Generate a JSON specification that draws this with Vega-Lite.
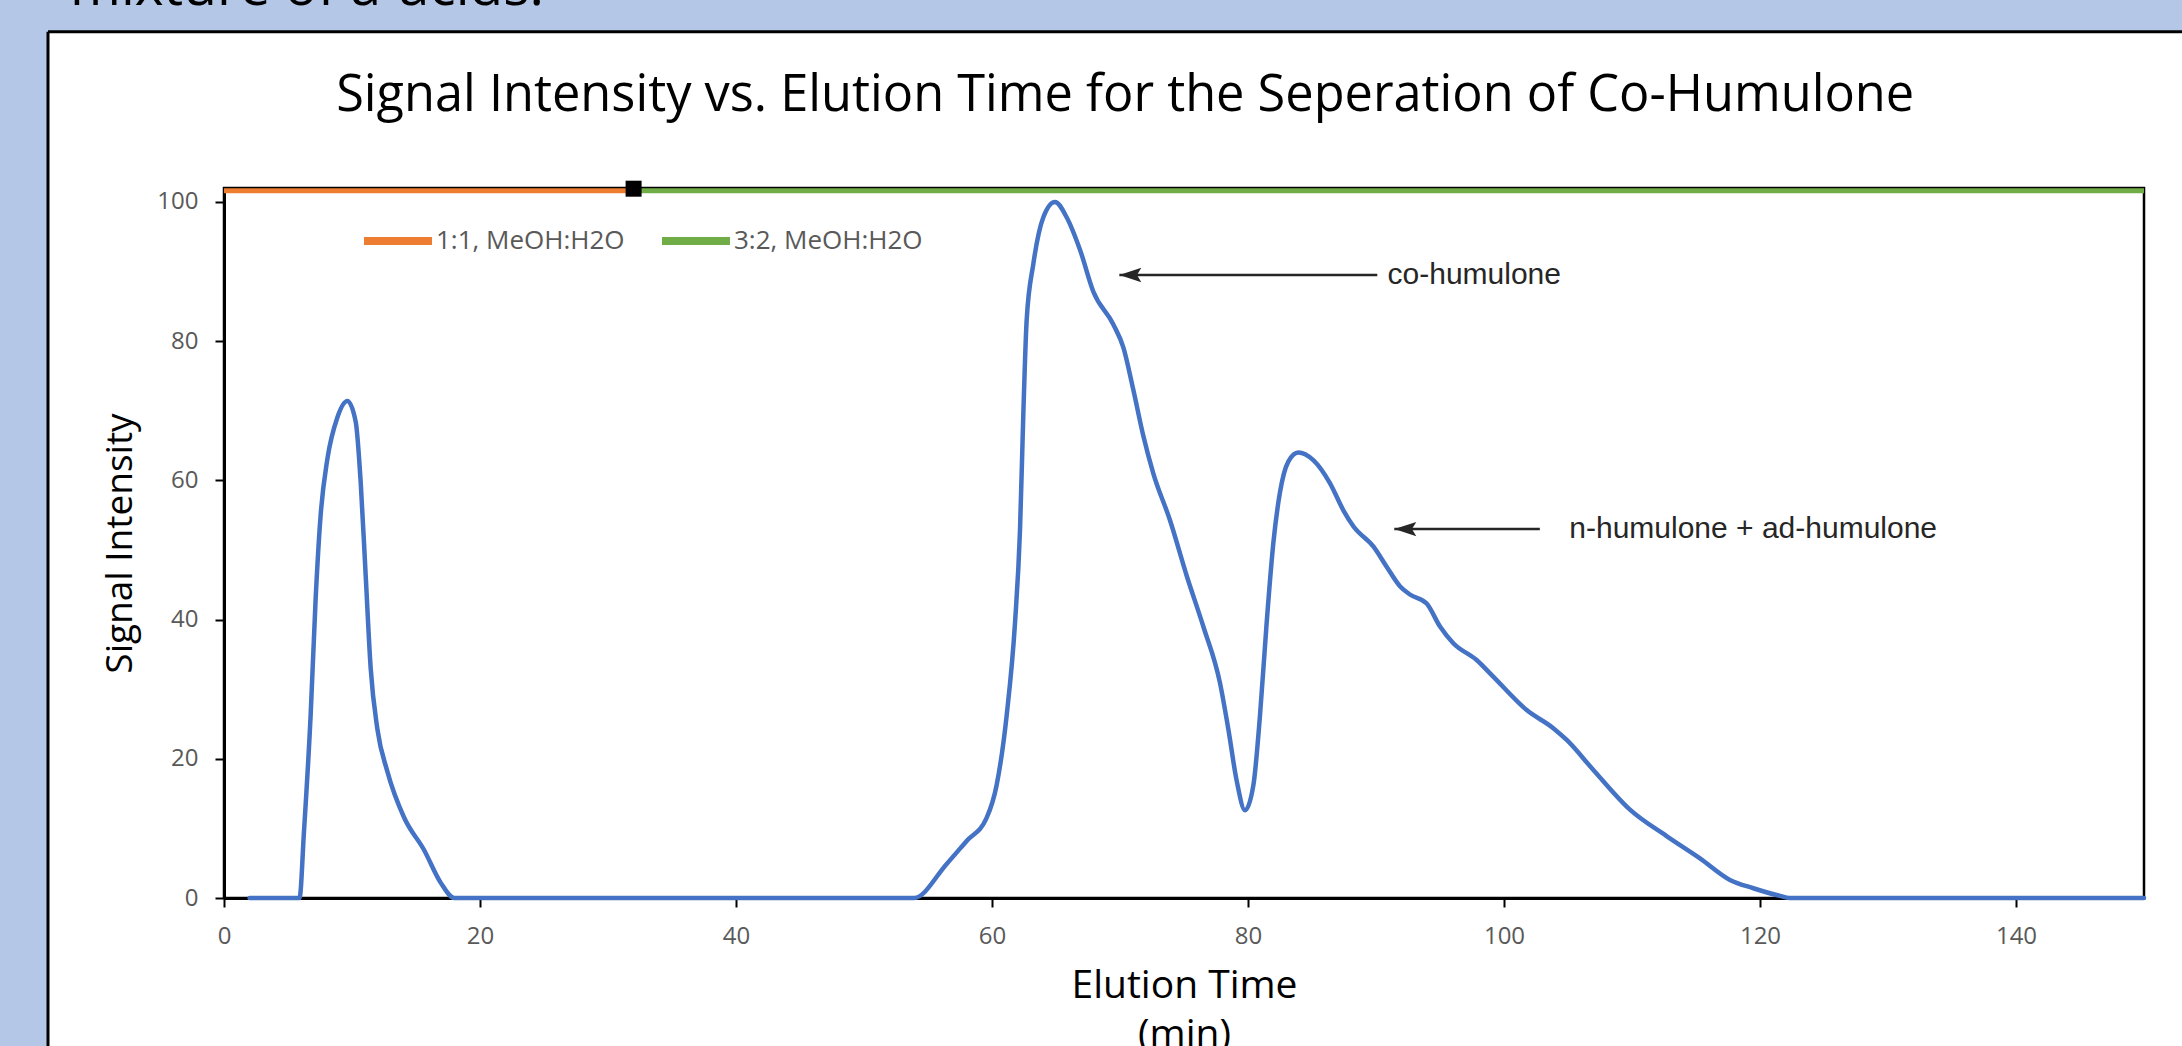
{
  "$schema": "https://vega.github.io/schema/vega-lite/v6.json",
  "width": 1920,
  "height": 710,
  "autosize": {"type": "none"},
  "padding": {"left": 224, "top": 188, "right": 38, "bottom": 148},
  "background": "white",
  "config": {
    "view": {"stroke": "#000000", "strokeWidth": 2.5},
    "font": "Open Sans",
    "axis": {
      "domainColor": "#000000",
      "domainWidth": 3,
      "tickColor": "#000000",
      "tickWidth": 2,
      "tickSize": 9,
      "grid": false,
      "labelFont": "Open Sans",
      "labelFontSize": 24,
      "labelColor": "#595959",
      "labelPadding": 17,
      "labelFlush": false,
      "labelOverlap": false,
      "titleFont": "Open Sans",
      "titleFontSize": 37,
      "titleFontWeight": "normal",
      "titleColor": "#000000"
    }
  },
  "datasets": {
    "curve": [
      {"t": 2, "signal": 0}, {"t": 5.9, "signal": 0}, {"t": 6.25, "signal": 9.6}, {"t": 6.77, "signal": 26.3},
      {"t": 7.16, "signal": 43}, {"t": 7.55, "signal": 55}, {"t": 8.07, "signal": 63}, {"t": 8.85, "signal": 69},
      {"t": 9.64, "signal": 71.4}, {"t": 10.29, "signal": 68.4}, {"t": 10.68, "signal": 59.7}, {"t": 11.07, "signal": 46.3},
      {"t": 11.46, "signal": 33}, {"t": 11.98, "signal": 24.3}, {"t": 12.76, "signal": 18.2}, {"t": 14.06, "signal": 11.6},
      {"t": 15.63, "signal": 6.9}, {"t": 16.93, "signal": 2.2}, {"t": 18, "signal": 0}, {"t": 30, "signal": 0},
      {"t": 45, "signal": 0}, {"t": 53.9, "signal": 0}, {"t": 56.46, "signal": 4.9}, {"t": 58.02, "signal": 8.2},
      {"t": 59.58, "signal": 11.5}, {"t": 60.36, "signal": 16.2}, {"t": 61.15, "signal": 26.3}, {"t": 61.8, "signal": 39.6},
      {"t": 62.19, "signal": 53}, {"t": 62.45, "signal": 69.7}, {"t": 62.71, "signal": 83.1}, {"t": 63.23, "signal": 91.1},
      {"t": 64.01, "signal": 97.8}, {"t": 64.92, "signal": 100}, {"t": 65.83, "signal": 97.8}, {"t": 66.88, "signal": 93.1},
      {"t": 67.92, "signal": 87.1}, {"t": 69.48, "signal": 82.4}, {"t": 70.26, "signal": 79.1}, {"t": 71.04, "signal": 73},
      {"t": 71.82, "signal": 66.4}, {"t": 72.6, "signal": 61}, {"t": 73.9, "signal": 54.3}, {"t": 75.21, "signal": 46.3},
      {"t": 76.51, "signal": 39}, {"t": 77.81, "signal": 30.9}, {"t": 78.46, "signal": 24.3}, {"t": 79.11, "signal": 16.9},
      {"t": 79.77, "signal": 12.6}, {"t": 80.42, "signal": 16.2}, {"t": 80.94, "signal": 26.3}, {"t": 81.46, "signal": 39.6},
      {"t": 81.98, "signal": 51}, {"t": 82.5, "signal": 58.3}, {"t": 83.15, "signal": 62.7}, {"t": 83.93, "signal": 64},
      {"t": 85.1, "signal": 62.9}, {"t": 86.4, "signal": 59.6}, {"t": 87.45, "signal": 55.7}, {"t": 88.23, "signal": 53.4},
      {"t": 89.79, "signal": 50.5}, {"t": 90.83, "signal": 47.6}, {"t": 91.87, "signal": 44.8}, {"t": 92.65, "signal": 43.6},
      {"t": 93.96, "signal": 42.3}, {"t": 95, "signal": 39}, {"t": 96.04, "signal": 36.6}, {"t": 97.86, "signal": 34.2},
      {"t": 99.16, "signal": 31.8}, {"t": 101.77, "signal": 27}, {"t": 103.85, "signal": 24.4}, {"t": 104.9, "signal": 22.7},
      {"t": 106.98, "signal": 18.4}, {"t": 109.84, "signal": 12.7}, {"t": 112.7, "signal": 8.9}, {"t": 115.31, "signal": 5.7},
      {"t": 117.65, "signal": 2.6}, {"t": 119.48, "signal": 1.4}, {"t": 121.56, "signal": 0.3}, {"t": 122.3, "signal": 0},
      {"t": 135, "signal": 0}, {"t": 150, "signal": 0}
    ],
    "gradient": [
      {"series": "1:1, MeOH:H2O", "t": 0, "level": 101.6},
      {"series": "1:1, MeOH:H2O", "t": 32, "level": 101.6},
      {"series": "3:2, MeOH:H2O", "t": 32, "level": 101.6},
      {"series": "3:2, MeOH:H2O", "t": 150, "level": 101.6}
    ],
    "marker": [{"t": 32, "level": 101.9}],
    "notes": [
      {"label": "co-humulone", "tip": 69.95, "end": 90.1, "textX": 90.9, "y": 89.5},
      {"label": "n-humulone + ad-humulone", "tip": 91.43, "end": 102.8, "textX": 105.1, "y": 53.0}
    ]
  },
  "layer": [
    {
      "data": {"name": "curve"},
      "mark": {"type": "line", "color": "#4472C4", "strokeWidth": 4.5, "interpolate": "monotone", "strokeCap": "round", "strokeJoin": "round", "clip": false},
      "encoding": {
        "x": {
          "field": "t", "type": "quantitative",
          "scale": {"domain": [0, 150], "nice": false, "zero": false},
          "axis": {"values": [0, 20, 40, 60, 80, 100, 120, 140], "title": ["Elution Time", "(min)"], "titleFontSize": 39, "titleLineHeight": 49, "titleBaseline": "alphabetic", "titleY": 99, "titleAnchor": "middle"}
        },
        "y": {
          "field": "signal", "type": "quantitative",
          "scale": {"domain": [0, 102], "nice": false, "zero": false},
          "axis": {"values": [0, 20, 40, 60, 80, 100], "title": "Signal Intensity", "titleX": -104, "titleY": 355, "titleAngle": -90, "titleAlign": "center", "titleBaseline": "middle"}
        }
      }
    },
    {
      "data": {"values": [{}]},
      "mark": {"type": "rect", "fill": "#B4C7E7", "clip": false},
      "encoding": {
        "x": {"datum": -30, "type": "quantitative"},
        "x2": {"datum": -13.75},
        "y": {"datum": -40, "type": "quantitative"},
        "y2": {"datum": 140}
      }
    },
    {
      "data": {"values": [{}]},
      "mark": {"type": "rect", "fill": "#B4C7E7", "clip": false},
      "encoding": {
        "x": {"datum": -30, "type": "quantitative"},
        "x2": {"datum": 170},
        "y": {"datum": 124.45, "type": "quantitative"},
        "y2": {"datum": 140}
      }
    },
    {
      "data": {"values": [{}]},
      "mark": {"type": "rule", "color": "#000000", "strokeWidth": 3, "clip": false},
      "encoding": {
        "x": {"datum": -13.75, "type": "quantitative"},
        "y": {"datum": -40, "type": "quantitative"},
        "y2": {"datum": 124.45}
      }
    },
    {
      "data": {"values": [{}]},
      "mark": {"type": "rule", "color": "#000000", "strokeWidth": 3, "clip": false},
      "encoding": {
        "x": {"datum": -13.75, "type": "quantitative"},
        "x2": {"datum": 170},
        "y": {"datum": 124.45, "type": "quantitative"}
      }
    },
    {
      "data": {"values": [{"text": "mixture of a-acids."}]},
      "mark": {"type": "text", "font": "Open Sans", "fontSize": 55, "color": "#000000", "align": "left", "baseline": "alphabetic", "clip": false},
      "encoding": {
        "x": {"datum": -12.03, "type": "quantitative"},
        "y": {"datum": 128.3, "type": "quantitative"},
        "text": {"field": "text"}
      }
    },
    {
      "data": {"values": [{"text": "Signal Intensity vs. Elution Time for the Seperation of Co-Humulone"}]},
      "mark": {"type": "text", "font": "Open Sans", "fontSize": 50.5, "color": "#000000", "align": "center", "baseline": "alphabetic", "clip": false},
      "encoding": {
        "x": {"datum": 70.4, "type": "quantitative"},
        "y": {"datum": 113.05, "type": "quantitative"},
        "text": {"field": "text"}
      }
    },
    {
      "data": {"name": "gradient"},
      "mark": {"type": "line", "strokeWidth": 5, "clip": false},
      "encoding": {
        "x": {"field": "t", "type": "quantitative"},
        "y": {"field": "level", "type": "quantitative"},
        "color": {
          "field": "series", "type": "nominal",
          "scale": {"domain": ["1:1, MeOH:H2O", "3:2, MeOH:H2O"], "range": ["#ED7D31", "#70AD47"]},
          "legend": {
            "orient": "none", "legendX": 136, "legendY": 15, "direction": "horizontal", "title": null,
            "symbolType": "stroke", "symbolSize": 4624, "symbolStrokeWidth": 8,
            "labelFont": "Open Sans", "labelFontSize": 26, "labelColor": "#595959", "labelOffset": 0,
            "columnPadding": 21, "padding": 0, "labelLimit": 400
          }
        }
      }
    },
    {
      "data": {"name": "marker"},
      "mark": {"type": "point", "shape": "square", "filled": true, "size": 256, "color": "#000000", "opacity": 1, "clip": false},
      "encoding": {
        "x": {"field": "t", "type": "quantitative"},
        "y": {"field": "level", "type": "quantitative"}
      }
    },
    {
      "data": {"name": "notes"},
      "mark": {"type": "rule", "color": "#262626", "strokeWidth": 2.5},
      "encoding": {
        "x": {"field": "tip", "type": "quantitative"},
        "x2": {"field": "end"},
        "y": {"field": "y", "type": "quantitative"}
      }
    },
    {
      "data": {"name": "notes"},
      "mark": {"type": "point", "shape": "M0,0L2,-0.65L1.6,0L2,0.65Z", "filled": true, "size": 484, "color": "#262626", "opacity": 1},
      "encoding": {
        "x": {"field": "tip", "type": "quantitative"},
        "y": {"field": "y", "type": "quantitative"}
      }
    },
    {
      "data": {"name": "notes"},
      "mark": {"type": "text", "font": "Liberation Sans", "fontSize": 30, "color": "#262626", "align": "left", "baseline": "middle"},
      "encoding": {
        "x": {"field": "textX", "type": "quantitative"},
        "y": {"field": "y", "type": "quantitative"},
        "text": {"field": "label"}
      }
    }
  ]
}
